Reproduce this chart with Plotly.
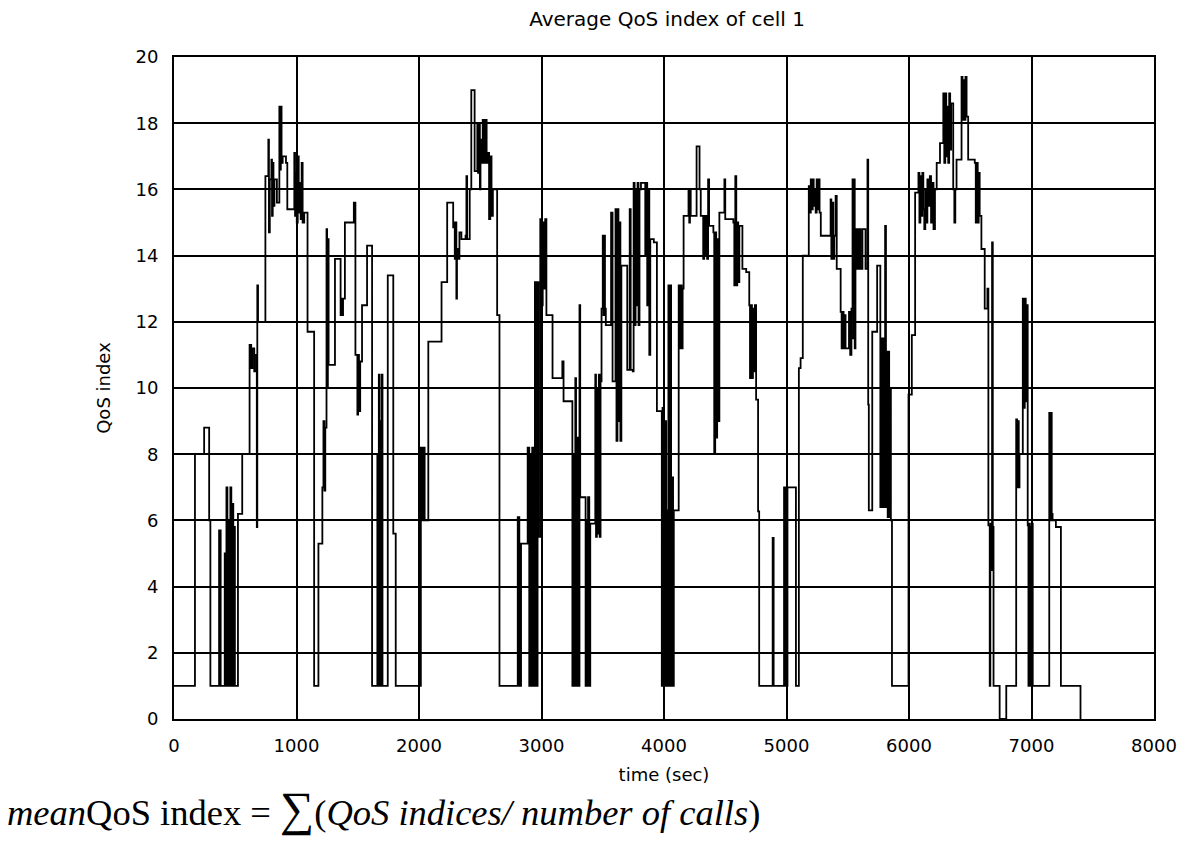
import plotly.graph_objects as go

# Step-wise average QoS index of cell 1: breakpoint times (sec) and the value held from each time on
time_sec = [
    0, 171, 246, 287, 297, 368, 381,
    414, 420, 428, 436, 444, 452, 460, 468, 476, 484, 490, 497,
    522, 557, 617, 630, 640, 655, 670, 676, 680, 686,
    746, 770, 775, 782, 795, 800, 806, 812, 820, 840, 860, 866, 872, 878, 887, 914, 925,
    982, 988, 995, 1002, 1010, 1018, 1026, 1034, 1042, 1050, 1063, 1090, 1144,
    1179, 1211, 1220, 1228, 1235, 1245, 1250, 1256, 1262, 1292, 1314, 1360, 1366, 1372, 1380,
    1395, 1468, 1481, 1497, 1503, 1510, 1520, 1535, 1576, 1617,
    1660, 1665, 1672, 1678, 1684, 1690, 1696, 1702, 1745, 1790, 1810,
    2015, 2022, 2028, 2034, 2040, 2046, 2052, 2076, 2184, 2230,
    2279, 2285, 2292, 2300, 2305, 2310, 2320, 2330, 2346, 2380, 2387, 2393, 2414, 2427,
    2454, 2476, 2482, 2490, 2497, 2502, 2508, 2520, 2530, 2540, 2552, 2562, 2572, 2582,
    2592, 2603, 2638, 2657,
    2806, 2819, 2833, 2887, 2900, 2908, 2916, 2924, 2932, 2946, 2960, 2968, 2975,
    2990, 3000, 3010, 3020, 3030, 3040, 3055, 3090, 3170, 3180, 3240,
    3252, 3260, 3268, 3276, 3282, 3290, 3298, 3310, 3316, 3350, 3360, 3366, 3372,
    3380, 3390, 3398, 3439, 3445, 3452, 3460, 3468, 3475, 3482, 3490, 3500, 3506, 3512,
    3518, 3525, 3560, 3568, 3580, 3592, 3604, 3612, 3620, 3628, 3636, 3644, 3652, 3690,
    3700, 3720, 3728, 3745, 3752, 3760, 3768, 3776, 3784, 3792, 3800, 3812, 3847, 3855,
    3863, 3871, 3880, 3888, 3917, 3942, 3982, 3988, 3994, 4000, 4006, 4012, 4018, 4024,
    4030, 4036, 4042, 4050, 4058, 4066, 4074, 4080, 4110, 4120, 4128, 4136, 4144, 4152,
    4160, 4200, 4206, 4212, 4218, 4225, 4266, 4290, 4300, 4320, 4328, 4336, 4344, 4352,
    4360, 4368, 4403, 4410, 4418, 4426, 4434, 4444, 4452, 4493, 4500, 4540, 4566, 4574,
    4582, 4590, 4598, 4606, 4615, 4640, 4671, 4696, 4702, 4710, 4718, 4726, 4734, 4742,
    4752, 4768, 4777, 4887, 4895,
    4980, 4986, 4994, 5000, 5008, 5050, 5077, 5101, 5115, 5133, 5182, 5190, 5198, 5206,
    5214, 5222, 5230, 5238, 5246, 5254, 5262, 5270, 5280, 5340, 5360, 5366, 5374, 5382,
    5390, 5401, 5410, 5442, 5450, 5458, 5466, 5474, 5482, 5510, 5520, 5530, 5539, 5545,
    5551, 5557, 5563, 5571, 5579, 5587, 5595, 5605, 5620, 5645, 5661, 5667, 5672, 5700,
    5740, 5766, 5780, 5786, 5792, 5798, 5805, 5812, 5820, 5826, 5832, 5838, 5845, 5852,
    5861, 5996, 6023, 6050, 6077, 6085, 6093, 6101, 6109, 6117, 6125, 6133, 6141, 6150,
    6160, 6170, 6180, 6190, 6200, 6212, 6226, 6253, 6280, 6288, 6296, 6304, 6312, 6320,
    6328, 6336, 6344, 6361, 6370, 6378, 6388, 6429, 6437, 6445, 6453, 6461, 6470, 6483,
    6523, 6537, 6545, 6553, 6561, 6569, 6577, 6591, 6618, 6640, 6648, 6659, 6664, 6670,
    6678, 6684, 6690, 6740, 6794,
    6875, 6882, 6890, 6896, 6902, 6929, 6937, 6945, 6953, 6961, 6969, 6975, 6981, 6987,
    6993, 7000, 7005, 7010, 7145, 7152, 7158, 7165, 7172, 7199, 7240, 7400,
]

qos_index = [
    1, 8, 8.8, 6, 1, 5.7, 1,
    5, 1, 7, 1, 6, 1, 7, 1, 6.5, 1, 5.8, 1,
    6.2, 8, 11.3, 10.6, 11.2, 10.5, 11, 5.8, 13.1, 12.0,
    16.4, 17.5, 14.7, 16.3, 16.9, 15.2, 16.8, 15.5, 16.3, 15.6, 18.5, 16.6, 18.5, 16.8, 17.0, 16.8, 15.4,
    17.1, 15.2, 16.5, 15.0, 17.0, 15.3, 16.2, 15.1, 16.8, 15.0, 15.3, 11.7, 1,
    5.3, 7, 9, 6.9, 8.8, 14.8, 10, 14.5, 10.7, 10.7, 13.9, 12.2, 12.7, 12.2, 12.7,
    15.0, 15.6, 11.0, 9.2, 11, 9.3, 10.8, 12.5, 14.3, 1,
    8, 1, 10.4, 1, 9, 1, 10.4, 1, 13.4, 5.6, 1,
    8.2, 6, 8.2, 6, 8.2, 6, 6.0, 11.4, 13.2, 15.6,
    14.85, 15, 13.9, 15, 12.7, 14.2, 13.9, 14.7, 14.5, 14.6, 16.4, 14.5, 16.0, 19.0,
    16.55, 18.0, 16.5, 18, 16.0, 17.5, 16.8, 18.1, 16.8, 18.1, 16.8, 17.1, 15.1, 17,
    15.2, 16, 12.2, 1,
    6.1, 1, 5.3, 8.2, 1, 8, 1, 8.2, 1, 13.2, 1, 13.2, 5.5,
    15.1, 12.5, 15, 13, 15.1, 12.2, 12.2, 10.3, 10.8, 9.6, 9.6,
    1, 8, 1, 10.3, 1, 8.5, 1, 12.5, 6.7, 6.7, 1, 6, 1,
    6.7, 1, 5.9, 10.4, 5.5, 10, 5.6, 10.4, 5.5, 10.2, 12.4, 14.6, 12.2, 14.6,
    12.4, 11.9, 11.9, 15.3, 10.2, 10.2, 15.4, 8.4, 15.4, 9, 15, 8.4, 13.7, 13.7,
    10.55, 15.4, 10.55, 10.5, 16.2, 11.9, 16, 12.5, 16.2, 11.9, 16, 16.2, 14, 16.2,
    12.5, 16, 11, 14.5, 14.4, 9.3, 1, 9.4, 1, 7.3, 1, 9, 1, 6.3,
    1, 13.1, 1, 13.1, 1, 7.3, 1, 6.3, 6.3, 13.1, 11.2, 13.1, 11.2, 13,
    15.2, 16, 15, 16, 15.2, 15.2, 17.3, 16, 15.2, 13.9, 15.2, 14, 15.2, 13.9,
    16.3, 14.9, 14.7, 8, 14.7, 8.5, 14.5, 9, 15.3, 16.3, 15.1, 15.1, 15, 13.1,
    16.4, 13.1, 15, 13.2, 14.9, 13.6, 13.5, 12.5, 10.3, 12.5, 10.3, 12.4, 10.5, 12.5,
    9.65, 6.27, 1, 5.47, 1,
    7, 1, 7, 1, 7, 7, 1, 10.6, 10.9, 14, 16.1, 15.3, 16.3, 15.4,
    16.3, 15.5, 16, 15.3, 16.3, 15.4, 16.3, 15.3, 14.6, 14.6, 15.7, 13.9, 15.6, 13.9,
    14.6, 15.8, 13.6, 12.3, 11.2, 12.3, 11.2, 12.2, 11.2, 12.3, 11, 12.4, 16.3, 11.5,
    16.3, 11.2, 14.8, 13.6, 14.8, 13.6, 14.8, 13.6, 14.8, 13.6, 16.9, 9.5, 6.3, 11.7,
    13.7, 6.4, 11.5, 6.4, 11.5, 6.4, 14.9, 6.4, 11.1, 6.1, 11.1, 6.1, 10, 6,
    1, 9.8, 11.6, 15.9, 16.5, 15, 16.4, 15.2, 16.5, 15.4, 14.8, 16, 15, 16.3,
    15.5, 16.4, 15, 16.2, 14.8, 16, 16.8, 17.4, 18.9, 16.8, 18.9, 17, 18.5, 16.8,
    18.9, 17.2, 18.6, 16, 15, 16, 16.9, 19.4, 18.1, 19.3, 18.1, 19.4, 18.2, 16.9,
    16.9, 16.8, 15, 16.8, 15, 16.5, 15.2, 14.2, 12.4, 13, 5.85, 1, 5.9, 4.5,
    14.4, 5.8, 1, 0, 1,
    9.05, 7, 9, 7, 8, 12.7, 9.4, 12.7, 9.6, 12.5, 5.85, 1, 5.9, 1,
    5.8, 1, 5.9, 1, 9.25, 6, 9.25, 6.2, 6.0, 5.8, 1, 0,
]

x_ticks = [0, 1000, 2000, 3000, 4000, 5000, 6000, 7000, 8000]
y_ticks = [0, 2, 4, 6, 8, 10, 12, 14, 16, 18, 20]

SANS = "DejaVu Sans, Verdana, sans-serif"

fig = go.Figure()
fig.add_trace(go.Scatter(
    x=time_sec, y=qos_index, mode="lines",
    line=dict(color="black", width=1.8, shape="hv"),
    showlegend=False, hoverinfo="skip",
))

axis_font = dict(family=SANS, size=18, color="black")
fig.update_xaxes(
    range=[0, 8000], tickvals=x_ticks, ticktext=[str(v) for v in x_ticks],
    showgrid=True, gridcolor="black", gridwidth=1.8, zeroline=False,
    showline=True, linecolor="black", linewidth=1.8, mirror=True,
    ticks="", tickfont=axis_font, ticklabelstandoff=9,
    title=dict(text="time (sec)", font=dict(family=SANS, size=18, color="black"), standoff=14),
)
fig.update_yaxes(
    range=[0, 20], tickvals=y_ticks, ticktext=[str(v) for v in y_ticks],
    showgrid=True, gridcolor="black", gridwidth=1.8, zeroline=False,
    showline=True, linecolor="black", linewidth=1.8, mirror=True,
    ticks="", tickfont=axis_font, ticklabelstandoff=10,
    title=dict(text="QoS index", font=dict(family=SANS, size=18, color="black"), standoff=20),
)

fig.update_layout(
    width=1189, height=842,
    margin=dict(l=174, r=29, t=57, b=123),
    paper_bgcolor="white", plot_bgcolor="white",
    title=dict(
        text="Average QoS index of cell 1",
        font=dict(family=SANS, size=20, color="black"),
        x=0.561, xanchor="center", y=0.978, yanchor="middle",
    ),
)

# Formula line under the chart
fig.add_annotation(
    text="<i>mean</i>QoS index = <span style='font-size:48px'>∑</span>(<i>QoS indices/ number of calls</i>)",
    xref="paper", yref="paper", x=-0.172, y=-0.092, xanchor="left", yanchor="top",
    showarrow=False,
    font=dict(family="Liberation Serif, Times New Roman, serif", size=36.5, color="black"),
)

fig.write_html("out.html")
